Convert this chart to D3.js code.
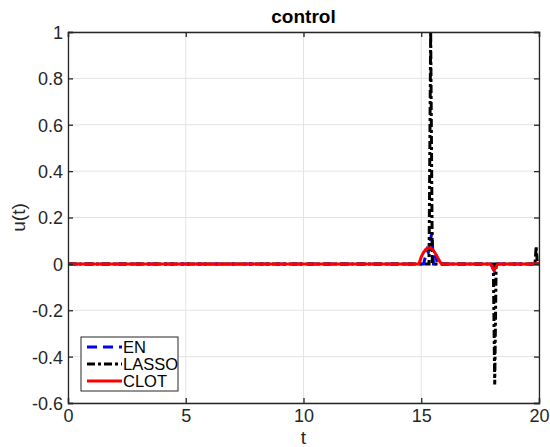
<!DOCTYPE html>
<html>
<head>
<meta charset="utf-8">
<script src="https://cdn.jsdelivr.net/npm/d3@7"></script>
<style>
  body { margin: 0; background: #fff; }
  svg { font-family: "Liberation Sans", Arial, sans-serif; }
</style>
</head>
<body>
<svg id="chart"></svg>
<script>
// series as [t, u] samples
const enData = [
  [0, 0], [15.1, 0], [15.25, 0.06], [15.3, 0.05], [15.45, 0.135], [15.52, 0.0],
  [15.58, 0], [15.62, 0.04], [15.68, 0], [17.95, 0], [18.1, -0.03], [18.25, 0], [20, 0]
];
const lassoData = [
  [0, 0], [15.33, 0], [15.4, 1.0], [15.47, 0], [18.06, 0], [18.12, -0.52],
  [18.18, 0], [19.83, 0], [19.88, 0.075], [19.93, 0], [20, 0]
];
const clotData = [
  [0, 0], [14.9, 0], [15.0, 0.03], [15.1, 0.05], [15.2, 0.063], [15.3, 0.069],
  [15.4, 0.068], [15.5, 0.06], [15.6, 0.045], [15.7, 0.027], [15.8, 0.008],
  [15.88, 0], [17.95, 0], [18.09, -0.027], [18.25, 0], [19.9, 0], [20, 0.004]
];
const xTicks = [0, 5, 10, 15, 20];
const yTicks = [-0.6, -0.4, -0.2, 0, 0.2, 0.4, 0.6, 0.8, 1];
const seriesNames = ["EN", "LASSO", "CLOT"];

const W = 550, H = 447;
const margin = { top: 32, right: 11, bottom: 44, left: 68 };
const width = W - margin.left - margin.right,
      height = H - margin.top - margin.bottom;

const svg = d3.select("#chart")
    .attr("width", W)
    .attr("height", H);

const g = svg.append("g")
    .attr("transform", `translate(${margin.left}, ${margin.top})`);

const x = d3.scaleLinear().domain([0, 20]).range([0, width]);
const y = d3.scaleLinear().domain([-0.6, 1]).range([height, 0]);

const axisColor = "#262626";

// grid
g.selectAll(".gx").data(xTicks).enter().append("line")
    .attr("x1", d => x(d)).attr("x2", d => x(d))
    .attr("y1", 0).attr("y2", height)
    .attr("stroke", "#e3e3e3").attr("stroke-width", 1);
g.selectAll(".gy").data(yTicks).enter().append("line")
    .attr("x1", 0).attr("x2", width)
    .attr("y1", d => y(d)).attr("y2", d => y(d))
    .attr("stroke", "#e3e3e3").attr("stroke-width", 1);

// lines
g.append("clipPath").attr("id", "clip")
  .append("rect").attr("width", width).attr("height", height);

const line = d3.line().x(d => x(d[0])).y(d => y(d[1]));
const styles = [
  { data: enData, color: "#0000ff", dash: "10,6" },
  { data: lassoData, color: "#000000", dash: "8,3,3,3" },
  { data: clotData, color: "#ff0000", dash: null }
];
styles.forEach(s => {
  g.append("path")
      .datum(s.data)
      .attr("clip-path", "url(#clip)")
      .attr("d", line)
      .attr("fill", "none")
      .attr("stroke", s.color)
      .attr("stroke-width", 3)
      .attr("stroke-dasharray", s.dash);
});

// axes (ticks inside, box on)
const tickFmt = d => d === 0 ? "0" : String(+d.toFixed(1));
const xAxis = g.append("g")
    .attr("transform", `translate(0, ${height})`)
    .call(d3.axisBottom(x).tickValues(xTicks).tickSize(-5).tickPadding(5).tickFormat(d3.format("d")));
const yAxis = g.append("g")
    .call(d3.axisLeft(y).tickValues(yTicks).tickSize(-5).tickPadding(5).tickFormat(tickFmt));
const xTop = g.append("g")
    .call(d3.axisTop(x).tickValues(xTicks).tickSize(-5).tickFormat(""));
const yRight = g.append("g")
    .attr("transform", `translate(${width}, 0)`)
    .call(d3.axisRight(y).tickValues(yTicks).tickSize(-5).tickFormat(""));

[xAxis, yAxis, xTop, yRight].forEach(a => {
  a.select(".domain").attr("stroke", axisColor).attr("stroke-width", 1.3);
  a.selectAll(".tick line").attr("stroke", axisColor).attr("stroke-width", 1.3);
  a.selectAll(".tick text").attr("fill", axisColor).style("font-size", "18px");
});
xAxis.selectAll(".tick text").attr("dy", "0.76em");
yAxis.selectAll(".tick text").attr("dy", "0.36em");

// labels
svg.append("text")
    .attr("x", margin.left + width / 2).attr("y", 23)
    .attr("text-anchor", "middle")
    .style("font-size", "19px").style("font-weight", "bold")
    .attr("fill", "#000")
    .text("control");
svg.append("text")
    .attr("x", margin.left + width / 2).attr("y", 444)
    .attr("text-anchor", "middle")
    .style("font-size", "19px")
    .attr("fill", axisColor)
    .text("t");
svg.append("text")
    .attr("transform", `translate(25, ${margin.top + y(0.2)}) rotate(-90)`)
    .attr("text-anchor", "middle")
    .style("font-size", "19px")
    .attr("fill", axisColor)
    .text("u(t)");

// legend
const legend = svg.append("g").attr("transform", "translate(81, 337)");
legend.append("rect")
    .attr("width", 97).attr("height", 54)
    .attr("fill", "#fff").attr("stroke", axisColor).attr("stroke-width", 1);
seriesNames.forEach((name, i) => {
  const yy = 10 + i * 17;
  legend.append("line")
      .attr("x1", 6).attr("x2", 41)
      .attr("y1", yy).attr("y2", yy)
      .attr("stroke", styles[i].color)
      .attr("stroke-width", 3)
      .attr("stroke-dasharray", styles[i].dash);
  legend.append("text")
      .attr("x", 42).attr("y", yy).attr("dy", "0.36em")
      .style("font-size", "16.5px")
      .attr("fill", "#000")
      .text(name);
});
</script>
</body>
</html>
